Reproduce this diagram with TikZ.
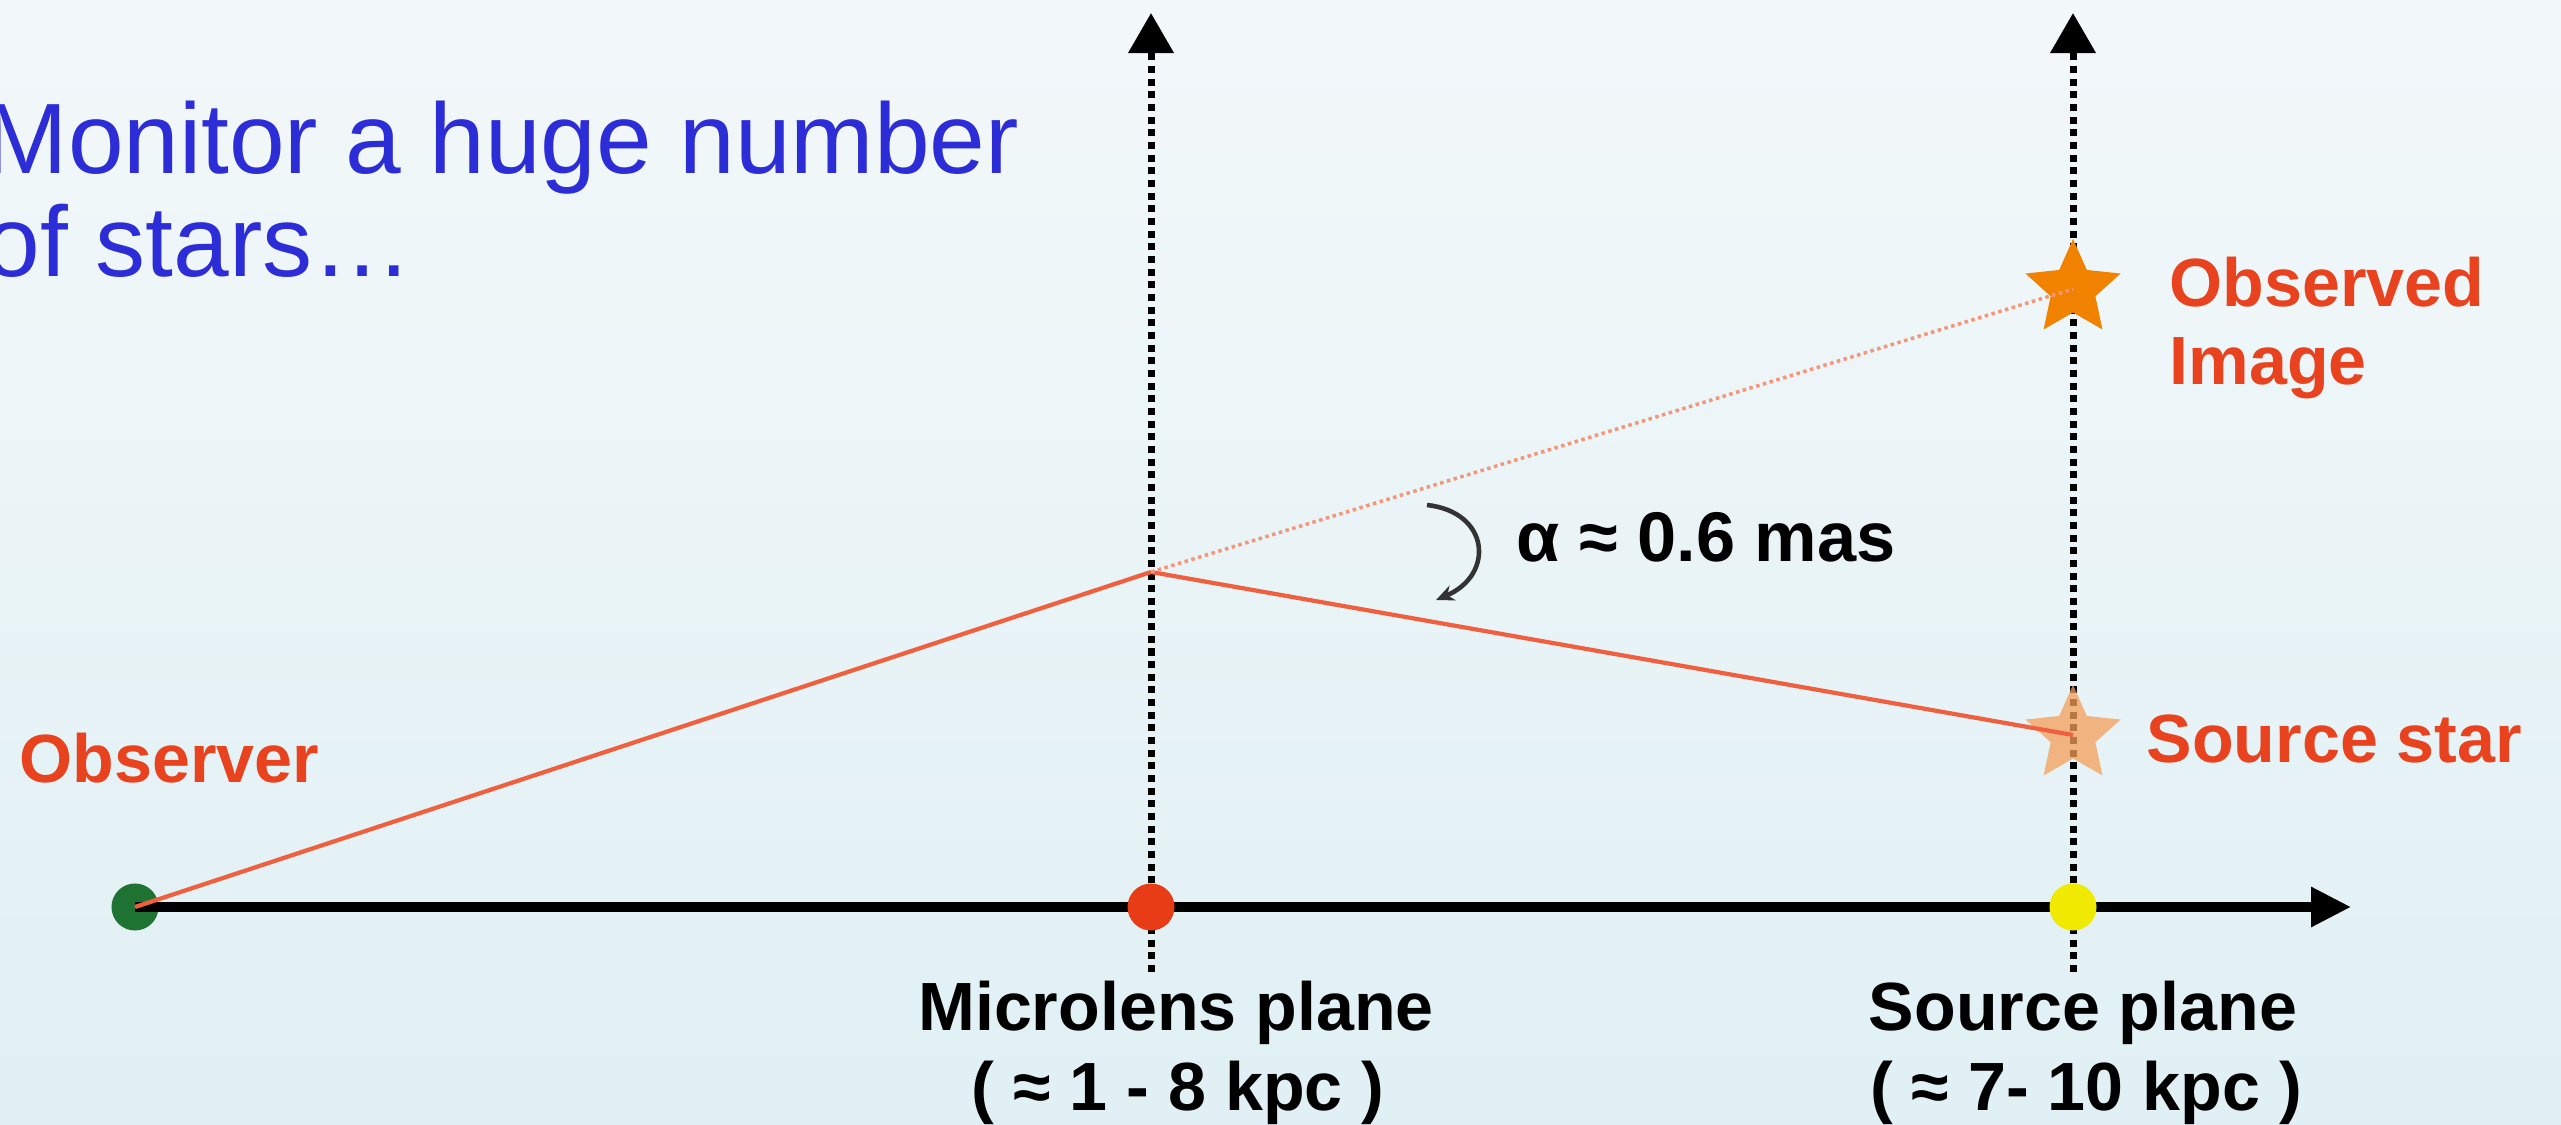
\documentclass[tikz,border=0pt]{standalone}
\usepackage{fontspec}
\setmainfont{Liberation Sans}
\usetikzlibrary{arrows.meta,shapes.geometric}
\definecolor{bgtop}{RGB}{243,248,250}
\definecolor{bgbot}{RGB}{224,240,244}
\definecolor{titleblue}{RGB}{45,45,215}
\definecolor{labred}{RGB}{232,66,30}
\definecolor{rayred}{RGB}{240,96,62}
\definecolor{raylight}{RGB}{245,150,120}
\definecolor{lensred}{RGB}{232,60,22}
\definecolor{obsgreen}{RGB}{30,115,50}
\definecolor{srcyellow}{RGB}{240,234,0}
\definecolor{imgorange}{RGB}{240,130,0}
\definecolor{srcorange}{RGB}{245,160,90}
\tikzset{
  planeline/.style={black, line width=2pt, dash pattern=on 2pt off 1.6pt, -{Triangle[length=0.4cm,width=0.44cm]}},
  axisline/.style={black, line width=2.6pt, -{Triangle[length=0.4cm,width=0.38cm]}},
  ray/.style={rayred, line width=1.2pt},
  fainray/.style={raylight, line width=1pt, dash pattern=on 1pt off 1pt},
  dot/.style={circle, inner sep=0pt, minimum size=0.47cm},
  starmark/.style={star, star points=5, star point ratio=0.47, inner sep=0pt, minimum size=0.47cm, shape border rotate=180},
  lab/.style={inner sep=0pt, text=labred, font=\fontsize{19.4}{23}\selectfont\bfseries},
  blk/.style={inner sep=0pt, text=black, font=\fontsize{19.4}{23}\selectfont\bfseries},
  ttl/.style={inner sep=0pt, text=titleblue, font=\fontsize{28.45}{34}\selectfont},
  anglearrow/.style={black!80, line width=1.3pt, -{Stealth[length=0.18cm,width=0.16cm]}}
}
\begin{document}
\begin{tikzpicture}[x=0.01cm,y=-0.01cm]
\useasboundingbox (0,0) rectangle (2561,1125);
\shade[top color=bgtop,bottom color=bgbot] (0,0) rectangle (2561,1125);

% title
\node[ttl, anchor=base west] (t1) at (-16,174) {Monitor a huge number};
\node[ttl, anchor=base west] (t2) at (-16,277) {of stars…};

% coordinates
\coordinate (lensbot) at (1151,972);
\coordinate (lenstop) at (1151,13);
\coordinate (srcbot) at (2073,972);
\coordinate (srctop) at (2073,13);
\coordinate (axisend) at (2351,907);
\coordinate (lens) at (1151,572);

% plane lines and axis
\draw[planeline] (lensbot) -- (lenstop);
\draw[planeline] (srcbot) -- (srctop);

\node[dot, fill=obsgreen] (obs) at (135,907) {};
\draw[axisline] (obs.center) -- (axisend);

% stars
\node[starmark, fill=imgorange] (img) at (2073,289) {};
\node[starmark, fill=srcorange, fill opacity=0.75] (src) at (2073,735) {};

% rays
\draw[ray] (obs.center) -- (lens);
\draw[ray] (lens) -- (src.center);
\draw[fainray] (lens) -- (img.center);

% dots on axis
\node[dot, fill=lensred] (lensdot) at (1151,907) {};
\node[dot, fill=srcyellow] (srcdot) at (2073,907) {};

% angle arrow
\coordinate (a1) at (1427,505);
\coordinate (a2) at (1436,600);
\draw[anglearrow] (a1) .. controls (1490,512) and (1495,575) .. (a2);
\node[blk, anchor=base west, font=\fontsize{20}{24}\selectfont\bfseries] (alpha) at (1516,562) {α ≈ 0.6 mas};

% labels
\node[lab, anchor=base west] (lobs) at (19,782) {Observer};
\node[lab, anchor=base west] (limg1) at (2169,307) {Observed};
\node[lab, anchor=base west] (limg2) at (2169,385) {Image};
\node[lab, anchor=base west] (lsrc) at (2146,762) {Source star};

\node[blk, anchor=base] (ml1) at (1176,1030) {Microlens plane};
\node[blk, anchor=base] (ml2) at (1178,1110) {( ≈ 1 - 8 kpc )};
\node[blk, anchor=base] (sp1) at (2083,1030) {Source plane};
\node[blk, anchor=base] (sp2) at (2086,1110) {( ≈ 7- 10 kpc )};
\end{tikzpicture}
\end{document}
